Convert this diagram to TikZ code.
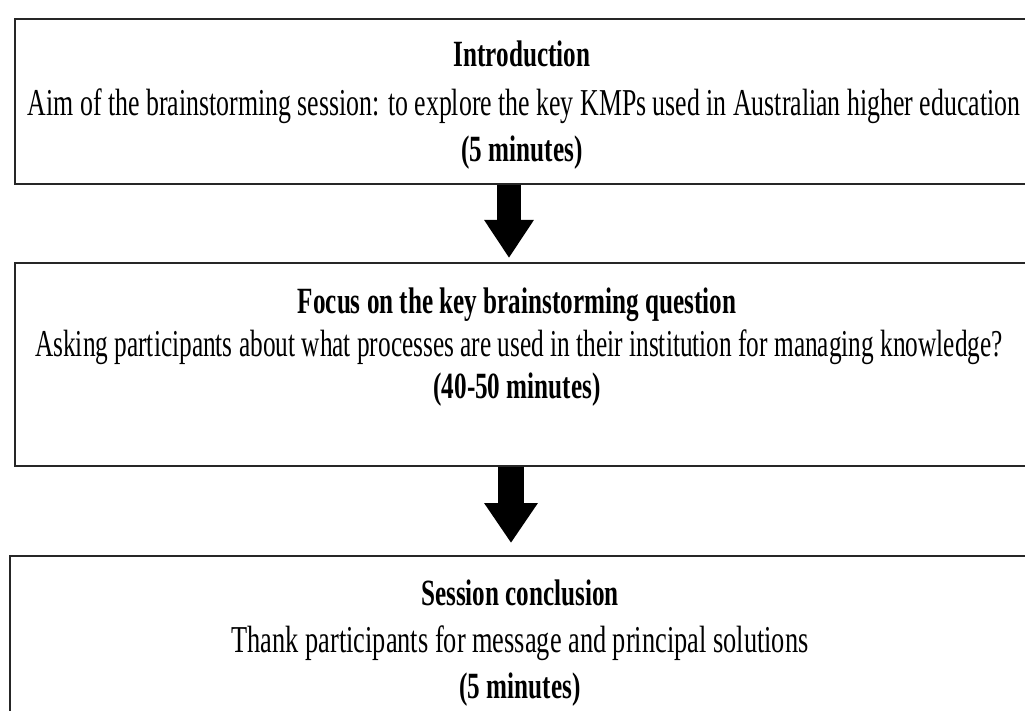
\documentclass[tikz,border=0pt]{standalone}
\usepackage{fontspec}
\setmainfont{Liberation Serif}[FakeStretch=0.68]
\usetikzlibrary{arrows.meta}
\tikzset{
  box/.style={draw=black!85, line width=2.2pt, anchor=north west, inner sep=0pt},
  reg/.style={anchor=base, inner sep=0pt, font=\fontsize{38}{40}\selectfont},
  bld/.style={anchor=base, inner sep=0pt, font=\fontsize{37}{40}\selectfont\bfseries},
  bigarrowA/.style={line width=24pt, -{Triangle[width=47pt,length=38pt]}},
  bigarrowB/.style={line width=26pt, -{Triangle[width=51pt,length=40pt]}}
}
\begin{document}
\begin{tikzpicture}[x=1pt,y=-1pt]
\useasboundingbox (0,0) rectangle (1025,711);
\fill[white] (0,0) rectangle (1025,711);
\clip (0,0) rectangle (1025,711);
% boxes
\node[box, minimum width=1030pt, minimum height=165pt] (b1) at (14,18) {};
\node[box, minimum width=1030pt, minimum height=203pt] (b2) at (14,262) {};
\node[box, minimum width=1035pt, minimum height=180pt] (b3) at (9,555) {};
% texts
\node[bld] (t11) at (522,67) {Introduction};
\node[reg] (t12) at (524,116) {Aim of the brainstorming session: to explore the key KMPs used in Australian higher education};
\node[bld] (t13) at (522,162) {(5 minutes)};
\node[bld] (t21) at (517,313) {Focus on the key brainstorming question};
\node[reg] (t22) at (519,356) {\scalebox{0.98}[1]{Asking participants about what processes are used in their institution for managing knowledge?}};
\node[bld] (t23) at (517,398) {(40-50 minutes)};
\node[bld] (t31) at (520,605) {Session conclusion};
\node[reg] (t32) at (520,652) {\scalebox{1.02}[1]{Thank participants for message and principal solutions}};
\node[bld] (t33) at (520,698) {(5 minutes)};
% arrows
\coordinate (ax1) at (509,0);
\coordinate (ax2) at (511,0);
\coordinate (tip1) at (509,258);
\coordinate (tip2) at (511,543);
\draw[bigarrowA] (b1.south -| ax1) -- (tip1);
\draw[bigarrowB] (b2.south -| ax2) -- (tip2);
\end{tikzpicture}
\end{document}
